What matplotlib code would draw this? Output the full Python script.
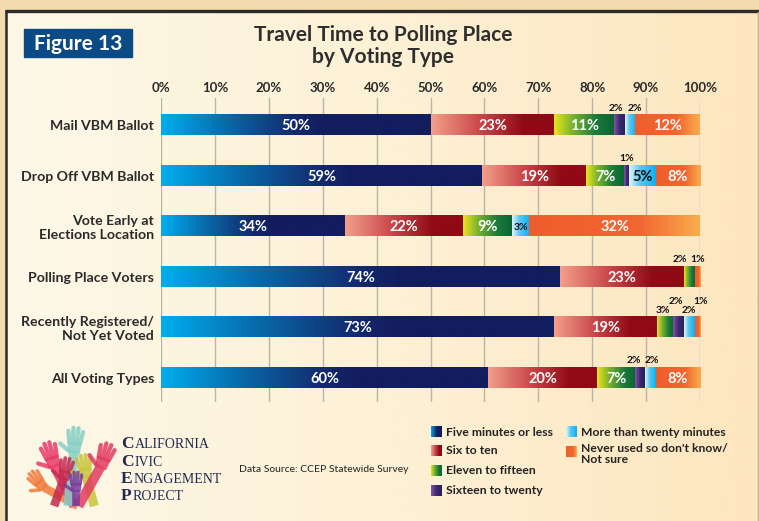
import numpy as np
import matplotlib
matplotlib.use("Agg")
import matplotlib.pyplot as plt
from matplotlib.colors import LinearSegmentedColormap
from matplotlib.patches import Rectangle, Polygon

plt.rcParams['font.family'] = ['Lato', 'DejaVu Sans']

# --- data (percent of each voting type) ---
voting_types = ["Mail VBM Ballot", "Drop Off VBM Ballot", "Vote Early at\nElections Location",
                "Polling Place Voters", "Recently Registered/\nNot Yet Voted", "All Voting Types"]
categories = ["Five minutes or less", "Six to ten", "Eleven to fifteen", "Sixteen to twenty",
              "More than twenty minutes", "Never used so don't know/\nNot sure"]

five_or_less = [50, 59.6, 34.1, 74, 73, 60.7]
six_to_ten = [23, 19.3, 22, 23, 19, 20.2]
eleven_to_fifteen = [11, 7, 9, 2, 3, 7.1]
sixteen_to_twenty = [2, 1, 0, 0, 2, 1.8]
over_twenty = [2, 4.9, 3.2, 0, 2, 2]
never_used = [12, 8.2, 31.7, 1, 1, 8.2]

# printed (rounded) labels
lbl_five = [50, 59, 34, 74, 73, 60]
lbl_six = [23, 19, 22, 23, 19, 20]
lbl_eleven = [11, 7, 9, 2, 3, 7]
lbl_sixteen = [2, 1, 0, 0, 2, 2]
lbl_over = [2, 5, 3, 0, 2, 2]
lbl_never = [12, 8, 32, 1, 1, 8]

series = [five_or_less, six_to_ten, eleven_to_fifteen, sixteen_to_twenty, over_twenty, never_used]
labels = [lbl_five, lbl_six, lbl_eleven, lbl_sixteen, lbl_over, lbl_never]

xticks = list(range(0, 101, 10))

# gradient colours per category (left -> right)
grad_stops = [
    [(0, '#00aeef'), (0.25, '#0868a8'), (0.5, '#13296c'), (0.6, '#121d5e'), (1, '#121d5e')],
    [(0, '#f3a08a'), (0.4, '#c8464a'), (0.75, '#8f0a14'), (1, '#8f0a14')],
    [(0, '#ece420'), (0.3, '#7cb42e'), (0.7, '#1b7a3a'), (1, '#0c6434')],
    [(0, '#8452a8'), (0.5, '#3c2a72'), (1, '#2a1e5a')],
    [(0, '#e4f4fb'), (0.4, '#5cc8f2'), (1, '#0bb0ee')],
    [(0, '#f05d2c'), (0.65, '#f26631'), (1, '#f9ad4c')],
]
cmaps = [LinearSegmentedColormap.from_list('c%d' % i, s) for i, s in enumerate(grad_stops)]
grad = np.linspace(0, 1, 256).reshape(1, -1)

# small labels drawn above the bar: (row, series) -> x nudge in %
above_nudge = {(0, 3): -0.6, (0, 4): 0.9, (1, 3): 0.0, (3, 2): -1.7, (3, 5): 0.0,
               (4, 2): -0.4, (4, 3): -0.4, (4, 4): -0.1, (4, 5): 0.6, (5, 3): -1.2, (5, 4): 0.2}
stagger_up = {(4, 3), (4, 5)}

W, H = 759, 521
fig = plt.figure(figsize=(W / 100, H / 100), dpi=100)
fig.patch.set_facecolor('#f2dcae')

# --- background panel ---
bg = fig.add_axes([0, 0, 1, 1])
bg.set_xlim(0, W)
bg.set_ylim(H, 0)
bg.axis('off')
panel = LinearSegmentedColormap.from_list('panel', ['#fef8e8', '#fdf1d6', '#fde6bf'])
bg.imshow(grad, cmap=panel, extent=(6, 757, H, 11), aspect='auto', zorder=0)
bg.plot([5, W], [10.5, 10.5], color='#2b2b2b', lw=2.4, solid_capstyle='butt', zorder=1)
bg.plot([6, 6], [9.5, H], color='#2b2b2b', lw=1.8, solid_capstyle='butt', zorder=1)
bg.plot([758, 758], [12, H], color='#c8b48c', lw=1, zorder=1)

# figure badge
bg.add_patch(Rectangle((24, 29), 108, 28, color='#0b4a85', zorder=2))
bg.text(78, 43.5, "Figure 13", color='white', fontsize=15, fontweight='bold',
        ha='center', va='center', zorder=3)

bg.text(383, 46, "Travel Time to Polling Place\nby Voting Type", color='#2e2e2e',
        fontsize=15, fontweight='bold', ha='center', va='center', linespacing=1.1)

# --- main chart ---
ax = fig.add_axes([161 / W, 1 - 402 / H, (700 - 161) / W, (402 - 98) / H])
ax.patch.set_alpha(0)
rows = np.arange(len(voting_types))
bar_h = 0.415

for xv in xticks:
    ax.axvline(xv, color='#b9b5ab', lw=1, zorder=1)

lefts = np.zeros(len(voting_types))
for k, vals in enumerate(series):
    for r, v in enumerate(vals):
        if v <= 0:
            continue
        l = lefts[r]
        ax.imshow(grad, cmap=cmaps[k], extent=(l, l + v, r + bar_h / 2, r - bar_h / 2),
                  aspect='auto', interpolation='bilinear', zorder=2)
        txt = "%d%%" % labels[k][r]
        cx = l + v / 2
        if v >= 4.5:
            col = '#111111' if k == 4 else 'white'
            ax.text(cx, r + 0.02, txt, color=col, fontsize=10.5, fontweight='bold',
                    ha='center', va='center', zorder=3)
        elif k == 4 and r == 2:
            ax.text(cx, r + 0.02, txt, color='#111111', fontsize=7.5, fontweight='bold',
                    ha='center', va='center', zorder=3)
        else:
            dy = 0.3 if (r, k) in stagger_up else 0.12
            ax.text(cx + above_nudge.get((r, k), 0), r - bar_h / 2 - dy, txt, color='#111111',
                    fontsize=7.5, fontweight='bold', ha='center', va='center', zorder=3)
        lefts[r] += v

ax.set_xlim(0, 100)
ax.set_ylim(5.485, -0.535)
ax.set_xticks(xticks)
ax.set_xticklabels(["%d%%" % t for t in xticks], fontsize=9.5, fontweight='bold', color='#2a2a2a')
ax.xaxis.tick_top()
ax.set_yticks(rows)
ax.set_yticklabels(voting_types, fontsize=10.2, fontweight='bold', color='#2a2a2a')
ax.tick_params(axis='both', length=0)
ax.tick_params(axis='x', pad=3)
ax.tick_params(axis='y', pad=5)
for s in ax.spines.values():
    s.set_visible(False)

# --- legend ---
leg_pos = [(431, 432), (431, 451), (431, 471), (431, 491), (566, 432), (566, 452)]
for k, (lx, ly) in enumerate(leg_pos):
    bg.imshow(grad, cmap=cmaps[k], extent=(lx, lx + 11, ly + 5.5, ly - 5.5),
              aspect='auto', zorder=2)
    bg.text(lx + 15, ly if k != 5 else ly + 2, categories[k], fontsize=8.7, fontweight='bold',
            color='#222222', ha='left', va='center', linespacing=1.0, zorder=3)
bg.set_xlim(0, W)
bg.set_ylim(H, 0)

bg.text(239, 470, "Data Source: CCEP Statewide Survey", fontsize=7.5, color='#222222',
        ha='left', va='center')

# --- logo ---
def draw_hand(x, y, ang, s, color):
    t = np.radians(ang)
    up = np.array([np.sin(t), -np.cos(t)])
    rt = np.array([np.cos(t), np.sin(t)])
    base = np.array([x, y])
    arm_end = base - up * 60 * s
    bg.plot([x, arm_end[0]], [y, min(arm_end[1], 506)], color=color, lw=6.5 * s,
            alpha=0.85, solid_capstyle='butt', zorder=2)
    palm = [base + rt * dx * s + up * dy * s for dx, dy in
            [(-5.5, -2), (5.5, -2), (6.5, 8), (-6.5, 8)]]
    bg.add_patch(Polygon(palm, closed=True, color=color, alpha=0.85, lw=0, zorder=2))
    for dx, ln, sp in [(-4.8, 11, -10), (-1.6, 14, -3), (1.6, 14, 3), (4.8, 11, 10)]:
        a = np.radians(sp)
        d = up * np.cos(a) + rt * np.sin(a)
        p0 = base + rt * dx * s + up * 7 * s
        p1 = p0 + d * ln * s
        bg.plot([p0[0], p1[0]], [p0[1], p1[1]], color=color, lw=2.8 * s, alpha=0.85,
                solid_capstyle='round', zorder=2)
    d = up * np.cos(np.radians(-55)) + rt * np.sin(np.radians(-55))
    p0 = base - rt * 5 * s
    p1 = p0 + d * 10 * s
    bg.plot([p0[0], p1[0]], [p0[1], p1[1]], color=color, lw=2.8 * s, alpha=0.85,
            solid_capstyle='round', zorder=2)

draw_hand(43, 487, -40, 0.9, '#f07a3a')
draw_hand(54, 465, -18, 1.1, '#e83a6a')
draw_hand(74, 451, 5, 1.1, '#86cfc4')
draw_hand(64, 478, 10, 0.95, '#c42a50')
draw_hand(86, 476, -8, 1.0, '#c8c43a')
draw_hand(101, 466, 20, 1.1, '#e03c62')
draw_hand(76, 490, 0, 0.85, '#7a3a9a')

renderer = fig.canvas.get_renderer()
inv = bg.transData.inverted()
logo_words = ["CALIFORNIA", "CIVIC", "ENGAGEMENT", "PROJECT"]
for i, w in enumerate(logo_words):
    yy = 448 + i * 17.5
    t0 = bg.text(121, yy, w[0], fontsize=12.5, color='#1f2a50', family='Liberation Serif',
                 fontweight='bold', ha='left', va='baseline')
    ext = t0.get_window_extent(renderer=renderer)
    x_end = inv.transform((ext.x1, ext.y0))[0]
    bg.text(x_end + 1, yy, w[1:], fontsize=10, color='#1f2a50', family='Liberation Serif',
            ha='left', va='baseline')

fig.savefig("out.png", dpi=100, facecolor=fig.get_facecolor())
